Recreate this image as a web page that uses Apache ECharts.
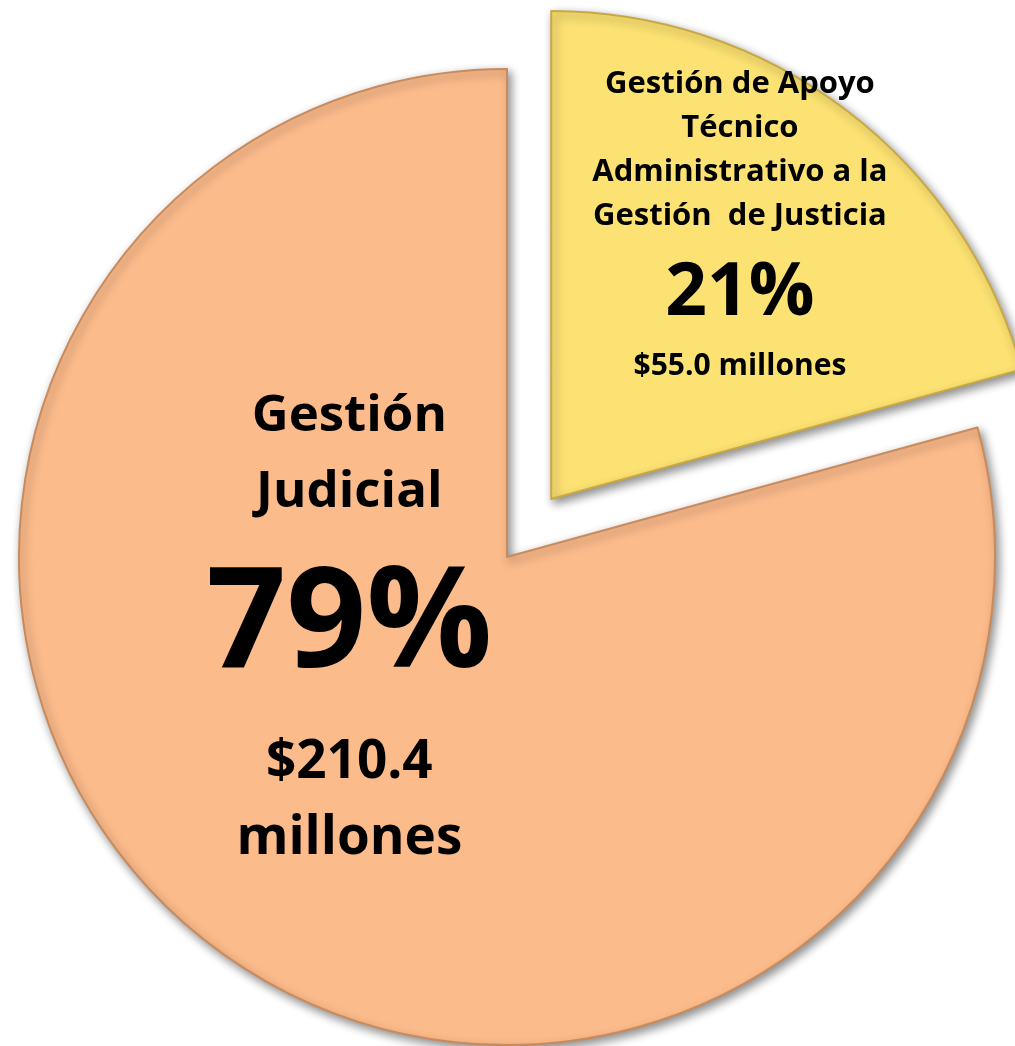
<!DOCTYPE html>
<html>
<head>
<meta charset="utf-8">
<script src="https://cdn.jsdelivr.net/npm/echarts@6/dist/echarts.min.js"></script>
<style>
html,body{margin:0;padding:0;background:#fff;}
#chart{width:1015px;height:1046px;}
</style>
</head>
<body>
<div id="chart"></div>
<script>
// Data
const categories = ['Gestión de Apoyo Técnico Administrativo a la Gestión de Justicia', 'Gestión Judicial'];
const values = [55.0, 210.4];           // millones
const labelNames = [
  ['Gestión de Apoyo', 'Técnico', 'Administrativo a la', 'Gestión  de Justicia'],
  ['Gestión', 'Judicial']
];
const amountLines = [
  ['$55.0 millones'],
  ['$210.4', 'millones']
];
const colors = ['#FCE272', '#FCBB8B'];
const borders = ['#c9a844', '#c98a5c'];

const chart = echarts.init(document.getElementById('chart'), null, {renderer: 'canvas'});

const styles = [
  {name: 's0', pct: 'p0', amt: 'a0'},
  {name: 's1', pct: 'p1', amt: 'a1'}
];

function fmt(params) {
  const i = params.dataIndex;
  const st = styles[i];
  const pct = Math.round(params.percent) + '%';
  const parts = [];
  labelNames[i].forEach(l => parts.push('{' + st.name + '|' + l + '}'));
  parts.push('{' + st.pct + '|' + pct + '}');
  amountLines[i].forEach(l => parts.push('{' + st.amt + '|' + l + '}'));
  return parts.join('\n');
}

const data = categories.map((c, i) => ({
  name: c,
  value: values[i],
  selected: i === 0,
  itemStyle: {
    color: colors[i],
    borderColor: borders[i],
    borderWidth: 2,
    shadowBlur: 10,
    shadowOffsetX: 3,
    shadowOffsetY: 4,
    shadowColor: 'rgba(0,0,0,0.45)'
  }
}));

const ff = '"Open Sans", Lato, sans-serif';

chart.setOption({
  animation: false,
  backgroundColor: '#ffffff',
  series: [{
    type: 'pie',
    center: [507, 557],
    radius: 488,
    startAngle: 90,
    clockwise: true,
    selectedMode: 'single',
    selectedOffset: 73,
    avoidLabelOverlap: false,
    data: data,
    emphasis: {disabled: true},
    label: {
      show: true,
      position: 'inside',
      formatter: fmt,
      color: '#000',
      fontFamily: ff,
      fontWeight: 'bold',
      align: 'center',
      verticalAlign: 'middle',
      rich: {
        s0: {fontFamily: ff, fontWeight: 'bold', fontSize: 31, lineHeight: 44, color: '#000', align: 'center'},
        p0: {fontFamily: ff, fontWeight: 'bold', fontSize: 73, lineHeight: 112, color: '#000', align: 'center'},
        a0: {fontFamily: ff, fontWeight: 'bold', fontSize: 30, lineHeight: 32, color: '#000', align: 'center'},
        s1: {fontFamily: ff, fontWeight: 'bold', fontSize: 51, lineHeight: 76, color: '#000', align: 'center'},
        p1: {fontFamily: ff, fontWeight: 'bold', fontSize: 140, lineHeight: 194, color: '#000', align: 'center'},
        a1: {fontFamily: ff, fontWeight: 'bold', fontSize: 53, lineHeight: 76, color: '#000', align: 'center'}
      }
    },
    labelLine: {show: false},
    labelLayout: function (params) {
      if (params.dataIndex === 0) return {dx: 39, dy: -80};
      return {dx: -8, dy: -126};
    }
  }]
});
</script>
</body>
</html>
